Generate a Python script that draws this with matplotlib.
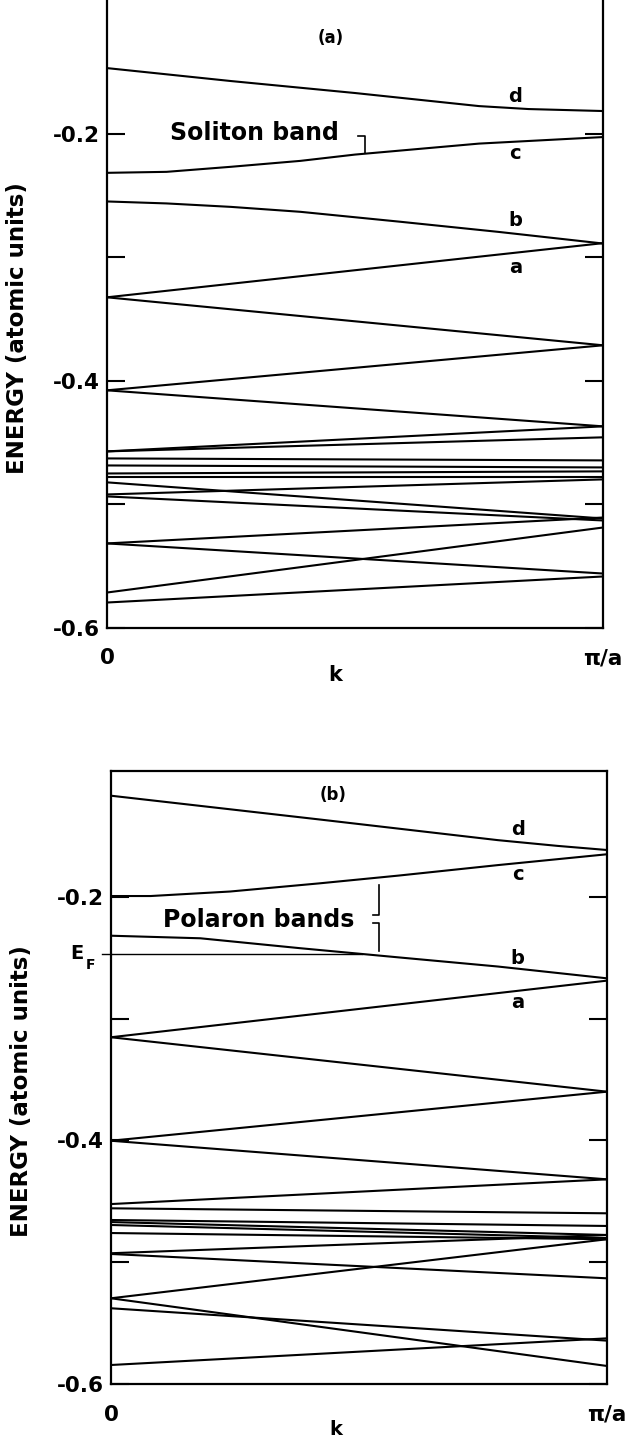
import numpy as np
import matplotlib
matplotlib.use("Agg")
import matplotlib.pyplot as plt

plt.rcParams['font.family'] = ['DejaVu Sans']
plt.rcParams['font.weight'] = 'bold'

# ---------------- data (energies in atomic units, k in units of pi/a) ----------------
K_EDGES = [0.0, 1.0]
Y_TICKS = [-0.6, -0.5, -0.4, -0.3, -0.2]
Y_TICK_LABELS = ["-0.6", "", "-0.4", "", "-0.2"]
X_TICK_LABELS = ["0", "π/a"]

# panel (a): soliton lattice -- curved bands d, c, b
a_k_d = [0.0, 0.25, 0.5, 0.75, 0.85, 1.0]
a_E_d = [-0.1465, -0.1570, -0.1667, -0.1773, -0.1797, -0.1813]
a_k_c = [0.0, 0.12, 0.25, 0.39, 0.5, 0.75, 1.0]
a_E_c = [-0.2314, -0.2306, -0.2265, -0.2217, -0.2166, -0.2077, -0.2024]
a_k_b = [0.0, 0.12, 0.25, 0.39, 0.59, 0.79, 1.0]
a_E_b = [-0.2546, -0.2562, -0.2590, -0.2630, -0.2710, -0.2793, -0.2887]
# panel (a): straight bands, energy at k=0 and at k=pi/a
a_E_start = [-0.3323, -0.3323, -0.4077, -0.4077, -0.4572, -0.4572, -0.4629,
             -0.4686, -0.4751, -0.4783, -0.4921, -0.4823, -0.4937, -0.5318,
             -0.5318, -0.5716, -0.5797]
a_E_end = [-0.2884, -0.3712, -0.3712, -0.4369, -0.4369, -0.4458, -0.4645,
           -0.4702, -0.4734, -0.4783, -0.4799, -0.5116, -0.5132, -0.5108,
           -0.5562, -0.5189, -0.5586]

# panel (b): polaron lattice -- curved bands d, c, b
b_k_d = [0.0, 0.42, 0.78, 0.9, 1.0]
b_E_d = [-0.1168, -0.1363, -0.1533, -0.1580, -0.1614]
b_k_c = [0.0, 0.08, 0.24, 0.42, 0.58, 0.78, 1.0]
b_E_c = [-0.1992, -0.1992, -0.1955, -0.1888, -0.1824, -0.1738, -0.1649]
b_k_b = [0.0, 0.18, 0.38, 0.58, 0.78, 1.0]
b_E_b = [-0.2318, -0.2339, -0.2420, -0.2496, -0.2571, -0.2668]
b_E_start = [-0.3152, -0.3152, -0.4002, -0.4002, -0.4522, -0.4557, -0.4653,
             -0.4670, -0.4694, -0.4760, -0.4926, -0.4932, -0.5296, -0.5296,
             -0.5378, -0.5844]
b_E_end = [-0.2687, -0.3599, -0.3599, -0.4319, -0.4319, -0.4598, -0.4702,
           -0.4776, -0.4801, -0.4811, -0.4776, -0.5132, -0.4811, -0.5852,
           -0.5644, -0.5625]
E_FERMI = -0.2468

LW = 1.5
FONT_TICK = 15.5

fig = plt.figure(figsize=(6.32, 14.41), dpi=100)
ax_a = fig.add_axes([0.1693, 0.5645, 0.7848, 0.4355])
ax_b = fig.add_axes([0.1756, 0.03956, 0.7848, 0.4254])


def style(ax, ytop, hide_top):
    ax.set_xlim(0, 1)
    ax.set_ylim(-0.6, ytop)
    ax.set_yticks(Y_TICKS)
    ax.set_yticklabels(Y_TICK_LABELS)
    ax.set_xticks(K_EDGES)
    ax.set_xticklabels(X_TICK_LABELS)
    ax.tick_params(axis='y', left=True, right=True, direction='in', length=13,
                   width=1.5, labelsize=FONT_TICK, pad=5)
    ax.tick_params(axis='x', length=0, labelsize=FONT_TICK, pad=15)
    for lab in ax.get_xticklabels() + ax.get_yticklabels():
        lab.set_fontweight('bold')
    for s in ax.spines.values():
        s.set_linewidth(1.6)
    if hide_top:
        ax.spines['top'].set_visible(False)
    ax.text(-0.18, 0.478, "ENERGY (atomic units)", rotation=90, transform=ax.transAxes,
            ha='center', va='center', fontsize=16.5, fontweight='bold')


def draw_bands(ax, curves, starts, ends):
    for kk, ee in curves:
        ax.plot(kk, ee, color='black', lw=LW, solid_capstyle='butt')
    for e0, e1 in zip(starts, ends):
        ax.plot(K_EDGES, [e0, e1], color='black', lw=LW, solid_capstyle='butt')


# ---------------- panel (a) ----------------
style(ax_a, -0.0913, True)
draw_bands(ax_a, [(a_k_d, a_E_d), (a_k_c, a_E_c), (a_k_b, a_E_b)], a_E_start, a_E_end)
lbl_kw = dict(fontsize=14, fontweight='bold', ha='center', va='center')
ax_a.text(0.823, -0.1697, "d", **lbl_kw)
ax_a.text(0.823, -0.2157, "c", **lbl_kw)
ax_a.text(0.823, -0.2703, "b", **lbl_kw)
ax_a.text(0.823, -0.3082, "a", **lbl_kw)
ax_a.text(0.45, -0.1221, "(a)", fontsize=12, fontweight='bold', ha='center', va='center')
ax_a.text(0.127, -0.1992, "Soliton band", fontsize=17, fontweight='bold', ha='left', va='center')
ax_a.plot([0.506, 0.520, 0.520], [-0.2016, -0.2016, -0.2157], color='black', lw=1.2)
ax_a.text(0.46, -0.0757, "k", transform=ax_a.transAxes, fontsize=15, fontweight='bold',
          ha='center', va='center')

# ---------------- panel (b) ----------------
style(ax_b, -0.0965, False)
draw_bands(ax_b, [(b_k_d, b_E_d), (b_k_c, b_E_c), (b_k_b, b_E_b)], b_E_start, b_E_end)
ax_b.text(0.82, -0.1444, "d", **lbl_kw)
ax_b.text(0.82, -0.1819, "c", **lbl_kw)
ax_b.text(0.82, -0.2503, "b", **lbl_kw)
ax_b.text(0.82, -0.2868, "a", **lbl_kw)
ax_b.text(0.448, -0.1164, "(b)", fontsize=12, fontweight='bold', ha='center', va='center')
ax_b.text(0.105, -0.2189, "Polaron bands", fontsize=17, fontweight='bold', ha='left', va='center')
ax_b.plot([0.540, 0.540, 0.528], [-0.1901, -0.2148, -0.2148], color='black', lw=1.2)
ax_b.plot([0.528, 0.540, 0.540], [-0.2214, -0.2214, -0.2441], color='black', lw=1.2)

# Fermi level: from k=0 to where band b reaches it
k_cross = np.interp(E_FERMI, b_E_b[::-1], b_k_b[::-1])
ax_b.plot([0, k_cross], [E_FERMI, E_FERMI], color='black', lw=1.0)
ax_b.plot([-0.018, 0.0], [E_FERMI, E_FERMI], color='black', lw=1.0,
          transform=ax_b.get_yaxis_transform(), clip_on=False)
ax_b.text(-0.0544, E_FERMI, "E", transform=ax_b.get_yaxis_transform(), fontsize=14,
          fontweight='bold', ha='right', va='center')
ax_b.text(-0.0504, E_FERMI - 0.009, "F", transform=ax_b.get_yaxis_transform(), fontsize=10,
          fontweight='bold', ha='left', va='center')
ax_b.text(0.454, -0.0735, "k", transform=ax_b.transAxes, fontsize=14, fontweight='bold',
          ha='center', va='center')

fig.savefig("out.png", dpi=100, facecolor='white')
